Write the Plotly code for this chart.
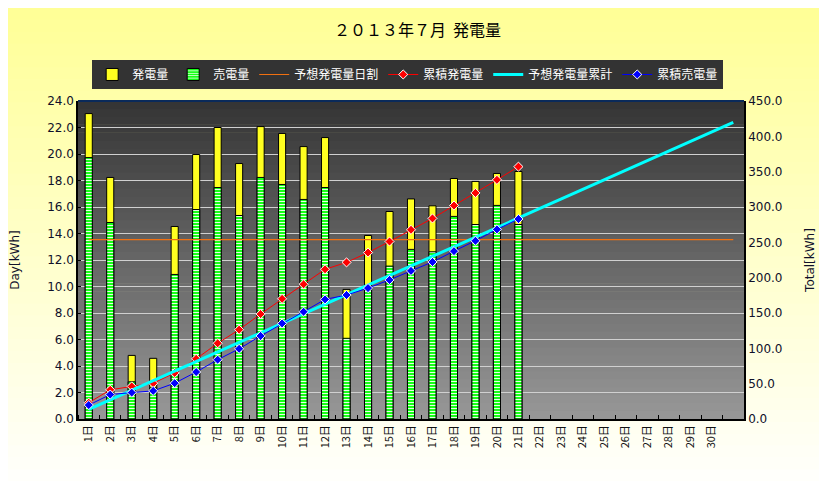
import plotly.graph_objects as go

# 2013年7月 発電量 (daily kWh on the left axis, cumulative kWh on the right)
days = list(range(1, 32))
bar_days = list(range(1, 22))
day_labels = [f"{d}日" for d in range(1, 31)]

generated = [23.05, 18.23, 4.80, 4.58, 14.53, 19.96, 22.00, 19.28, 22.07, 21.55,
             20.56, 21.24, 9.78, 13.85, 15.66, 16.61, 16.09, 18.15, 17.93, 18.53, 18.68]
sold = [19.73, 14.83, 2.81, 2.39, 10.91, 15.81, 17.47, 15.36, 18.23, 17.70,
        16.57, 17.47, 6.09, 9.90, 11.54, 12.80, 12.62, 15.29, 14.68, 16.12, 14.68]
forecast_daily = [13.54] * 31
generated_cum = [23.05, 41.28, 46.08, 50.66, 65.19, 85.15, 107.15, 126.43, 148.50, 170.05,
                 190.61, 211.85, 221.63, 235.48, 251.14, 267.75, 283.84, 301.99, 319.92,
                 338.45, 357.13]
forecast_cum = [13.5, 27.1, 40.6, 54.2, 67.7, 81.2, 94.8, 108.3, 121.9, 135.4, 148.9,
                162.5, 176.0, 189.6, 203.1, 216.6, 230.2, 243.7, 257.3, 270.8, 284.3,
                297.9, 311.4, 325.0, 338.5, 352.0, 365.6, 379.1, 392.7, 406.2, 419.7]
sold_cum = [19.73, 34.56, 37.37, 39.76, 50.67, 66.48, 83.95, 99.31, 117.54, 135.24,
            151.81, 169.28, 175.37, 185.27, 196.81, 209.61, 222.23, 237.52, 252.20,
            268.32, 283.00]

JP = "Noto Sans CJK JP"
NUM = "DejaVu Sans"


def blend(c1, c2, t):
    return "rgb({},{},{})".format(*[int(round(a + (b - a) * t)) for a, b in zip(c1, c2)])


traces = [
    go.Bar(x=bar_days, y=generated, name="発電量", width=0.33,
           marker=dict(color="#FFFF20", line=dict(color="black", width=1))),
    go.Bar(x=bar_days, y=sold, name="売電量", width=0.33,
           marker=dict(color="#00FF00", line=dict(color="black", width=1),
                       pattern=dict(shape="-", fgcolor="#E8FFE8", bgcolor="#00FF00",
                                    size=3, solidity=0.4, fillmode="replace"))),
    go.Scatter(x=days, y=forecast_daily, name="予想発電量日割", mode="lines",
               line=dict(color="#F07010", width=1.2)),
    go.Scatter(x=bar_days, y=generated_cum, name="累積発電量", mode="lines+markers",
               yaxis="y2", line=dict(color="#FF0000", width=1),
               marker=dict(symbol="diamond", size=7, color="#FF0000",
                           line=dict(color="white", width=1))),
    go.Scatter(x=days, y=forecast_cum, name="予想発電量累計", mode="lines",
               yaxis="y2", line=dict(color="#00FFFF", width=3)),
    go.Scatter(x=bar_days, y=sold_cum, name="累積売電量", mode="lines+markers",
               yaxis="y2", line=dict(color="#0000FF", width=1),
               marker=dict(symbol="diamond", size=7, color="#0000FF",
                           line=dict(color="white", width=1))),
]

# gradient backgrounds made of thin bands: paper first, plot area on top of it
shapes = []
n = 40
y_lo, y_hi = -62 / 318, 1 + 93 / 318
top_paper, bot_paper = (255, 255, 150), (255, 255, 252)
for i in range(n):
    y0 = y_lo + (y_hi - y_lo) * i / n
    y1 = y_lo + (y_hi - y_lo) * (i + 1) / n + 0.003
    shapes.append(dict(type="rect", xref="paper", yref="paper", layer="below",
                       x0=-0.2, x1=1.2, y0=y0, y1=y1, line_width=0,
                       fillcolor=blend(bot_paper, top_paper, (i + 0.5) / n)))
top_plot, bot_plot = (0x34, 0x34, 0x34), (0x98, 0x98, 0x98)
for i in range(n):
    shapes.append(dict(type="rect", xref="x domain", yref="y domain", layer="below",
                       x0=0, x1=1, y0=i / n, y1=min(1, (i + 1) / n + 0.002), line_width=0,
                       fillcolor=blend(bot_plot, top_plot, (i + 0.5) / n)))
shapes.append(dict(type="line", xref="x domain", yref="y domain", x0=0, x1=1, y0=1, y1=1,
                   line=dict(color="#0A2A5A", width=2)))

layout = go.Layout(
    template="none",
    width=819, height=473,
    margin=dict(l=70, r=83, t=93, b=62, autoexpand=False),
    paper_bgcolor="white",
    plot_bgcolor="rgba(0,0,0,0)",
    title=dict(text="２０１３年７月  発電量", x=0.5, xanchor="center", y=0.953,
               yanchor="middle", font=dict(family=JP, size=16, color="black")),
    barmode="overlay",
    showlegend=True,
    legend=dict(orientation="h", x=0.495, xanchor="center", y=1.129, yanchor="top",
                bgcolor="#333333", borderwidth=0, font=dict(family=JP, size=12, color="white"),
                itemwidth=30, tracegroupgap=0, traceorder="normal"),
    xaxis=dict(range=[0.5, 31.5], tickmode="array", tickvals=list(range(1, 31)),
               ticktext=day_labels, tickangle=-90, ticks="", showgrid=False,
               showline=True, linecolor="black", linewidth=1.5, zeroline=False,
               tickfont=dict(family=JP, size=11, color="#111111"), automargin=False,
               minor=dict(tickmode="array", tickvals=[d + 0.5 for d in range(31)],
                          ticks="inside", ticklen=4, tickcolor="black", showgrid=False)),
    yaxis=dict(range=[0, 24], dtick=2, tickformat=".1f", showgrid=True,
               gridcolor="#D0D0D0", gridwidth=1, showline=True, linecolor="black",
               linewidth=1.5, ticks="inside", ticklen=3, tickcolor="black", zeroline=False,
               tickfont=dict(family=NUM, size=12, color="#10102A"), automargin=False,
               title=dict(text="Day[kWh]", standoff=26, font=dict(family=NUM, size=12,
                                                                   color="#10102A"))),
    yaxis2=dict(range=[0, 450], dtick=50, tickformat=".1f", overlaying="y", side="right",
                showgrid=False, showline=True, linecolor="black", linewidth=1.5,
                zeroline=False, tickfont=dict(family=NUM, size=12, color="#10102A"),
                automargin=False,
                title=dict(text="Total[kWh]", standoff=24, font=dict(family=NUM, size=12,
                                                                    color="#10102A"))),
    shapes=shapes,
)

fig = go.Figure(data=traces, layout=layout)
fig.write_html("out.html")
